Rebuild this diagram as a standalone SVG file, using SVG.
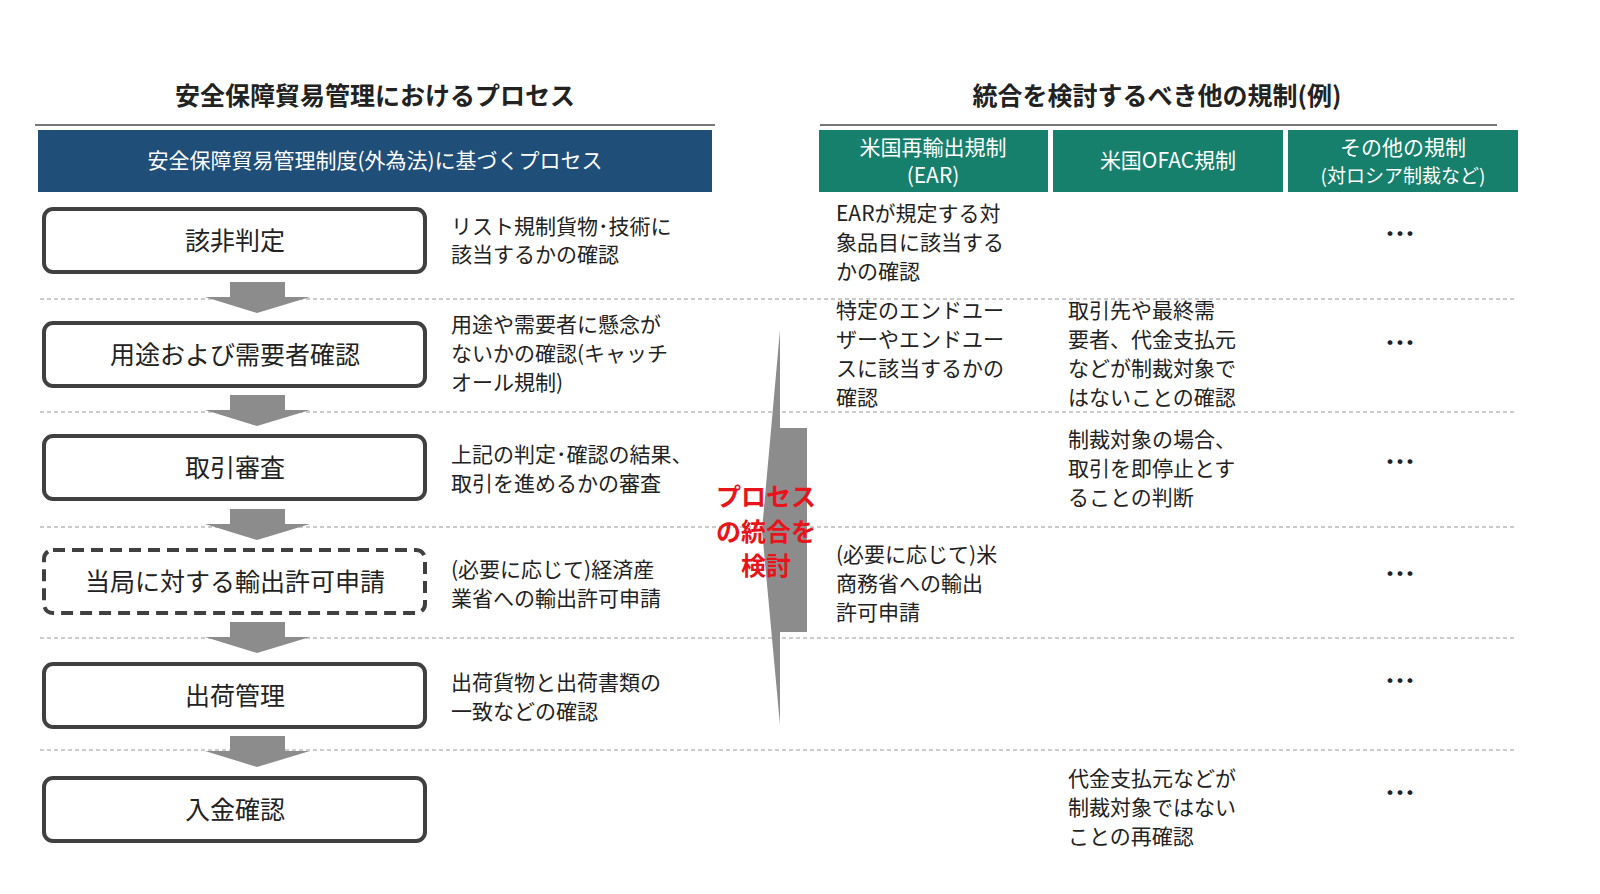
<svg xmlns="http://www.w3.org/2000/svg" width="1600" height="894" viewBox="0 0 1600 894">
<defs><style>
text{font-family:"Noto Sans CJK JP","Noto Sans",sans-serif;fill:#222}
.t{font-size:25px;font-weight:bold;text-anchor:middle}
.h{font-size:21px;fill:#fff;text-anchor:middle}
.b{font-size:25px;text-anchor:middle}
.d{font-size:21px}
.box{fill:#fff;stroke:#404040;stroke-width:4}
.sep{stroke:#bbb;stroke-width:1.5;stroke-dasharray:4 3}
.arr{fill:#8c8c8c}
.dot{font-size:30px;font-weight:bold;text-anchor:middle}
</style></defs>
<rect width="1600" height="894" fill="#fff"/>
<text class="t" x="375" y="105">安全保障貿易管理におけるプロセス</text>
<text class="t" x="1157" y="105">統合を検討するべき他の規制(例)</text>
<line x1="35" y1="125" x2="715" y2="125" stroke="#777" stroke-width="2"/>
<line x1="820" y1="125" x2="1497" y2="125" stroke="#777" stroke-width="2"/>
<rect x="38" y="130" width="674" height="62" fill="#1f4e79"/>
<text class="h" x="375" y="168">安全保障貿易管理制度(外為法)に基づくプロセス</text>
<rect x="819" y="130" width="229" height="62" fill="#16806d"/>
<rect x="1053" y="130" width="230" height="62" fill="#16806d"/>
<rect x="1288" y="130" width="230" height="62" fill="#16806d"/>
<text class="h" x="933" y="155">米国再輸出規制</text><text class="h" x="933" y="183">(EAR)</text>
<text class="h" x="1168" y="168">米国OFAC規制</text>
<text class="h" x="1403" y="155">その他の規制</text><text class="h" x="1403" y="183" style="font-size:19px">(対ロシア制裁など)</text>
<g id="separators">
<line class="sep" x1="40" y1="299" x2="1515" y2="299"/>
<line class="sep" x1="40" y1="412" x2="1515" y2="412"/>
<line class="sep" x1="40" y1="527" x2="1515" y2="527"/>
<line class="sep" x1="40" y1="638" x2="1515" y2="638"/>
<line class="sep" x1="40" y1="750" x2="1515" y2="750"/>
</g>
<g id="connectors">
<path class="arr" d="M230 282H285V297H310L257 313L205 297H230Z"/>
<path class="arr" d="M230 395H285V410H310L257 426L205 410H230Z"/>
<path class="arr" d="M230 509H285V524H310L257 540L205 524H230Z"/>
<path class="arr" d="M230 622H285V637H310L257 653L205 637H230Z"/>
<path class="arr" d="M230 736H285V751H310L257 767L205 751H230Z"/>
<path class="arr" d="M780 330L780 428L807 428L807 632L780 632L780 725L762 530Z"/>
</g>
<g id="n1"><rect class="box" x="44" y="209" width="381" height="63" rx="9"/><text class="b" x="235" y="250">該非判定</text></g>
<g id="n2"><rect class="box" x="44" y="323" width="381" height="63" rx="9"/><text class="b" x="235" y="364">用途および需要者確認</text></g>
<g id="n3"><rect class="box" x="44" y="436" width="381" height="63" rx="9"/><text class="b" x="235" y="477">取引審査</text></g>
<g id="n4"><rect class="box" x="44" y="550" width="381" height="63" rx="9" stroke-dasharray="12 7"/><text class="b" x="235" y="591">当局に対する輸出許可申請</text></g>
<g id="n5"><rect class="box" x="44" y="664" width="381" height="63" rx="9"/><text class="b" x="235" y="705">出荷管理</text></g>
<g id="n6"><rect class="box" x="44" y="778" width="381" height="63" rx="9"/><text class="b" x="235" y="819">入金確認</text></g>
<g class="d">
<text class="d" x="451" y="234">リスト規制貨物･技術に</text><text class="d" x="451" y="262">該当するかの確認</text>
<text class="d" x="451" y="332">用途や需要者に懸念が</text><text class="d" x="451" y="361">ないかの確認(キャッチ</text><text class="d" x="451" y="390">オール規制)</text>
<text class="d" x="451" y="462">上記の判定･確認の結果、</text><text class="d" x="451" y="491">取引を進めるかの審査</text>
<text class="d" x="451" y="577">(必要に応じて)経済産</text><text class="d" x="451" y="606">業省への輸出許可申請</text>
<text class="d" x="451" y="690">出荷貨物と出荷書類の</text><text class="d" x="451" y="719">一致などの確認</text>
<text class="d" x="836" y="221">EARが規定する対</text><text class="d" x="836" y="250">象品目に該当する</text><text class="d" x="836" y="279">かの確認</text>
<text class="d" x="836" y="318">特定のエンドユー</text><text class="d" x="836" y="347">ザーやエンドユー</text><text class="d" x="836" y="376">スに該当するかの</text><text class="d" x="836" y="405">確認</text>
<text class="d" x="836" y="562">(必要に応じて)米</text><text class="d" x="836" y="591">商務省への輸出</text><text class="d" x="836" y="620">許可申請</text>
<text class="d" x="1068" y="318">取引先や最終需</text><text class="d" x="1068" y="347">要者、代金支払元</text><text class="d" x="1068" y="376">などが制裁対象で</text><text class="d" x="1068" y="405">はないことの確認</text>
<text class="d" x="1068" y="447">制裁対象の場合、</text><text class="d" x="1068" y="476">取引を即停止とす</text><text class="d" x="1068" y="505">ることの判断</text>
<text class="d" x="1068" y="786">代金支払元などが</text><text class="d" x="1068" y="815">制裁対象ではない</text><text class="d" x="1068" y="844">ことの再確認</text>
</g>
<g style="font-size:25px;font-weight:bold;text-anchor:middle">
<text x="766" y="506" style="fill:#e8141c">プロセス</text>
<text x="766" y="541" style="fill:#e8141c">の統合を</text>
<text x="766" y="575" style="fill:#e8141c">検討</text>
</g>
<text class="dot" x="1400" y="245">…</text>
<text class="dot" x="1400" y="354">…</text>
<text class="dot" x="1400" y="473">…</text>
<text class="dot" x="1400" y="585">…</text>
<text class="dot" x="1400" y="692">…</text>
<text class="dot" x="1400" y="804">…</text>
</svg>
